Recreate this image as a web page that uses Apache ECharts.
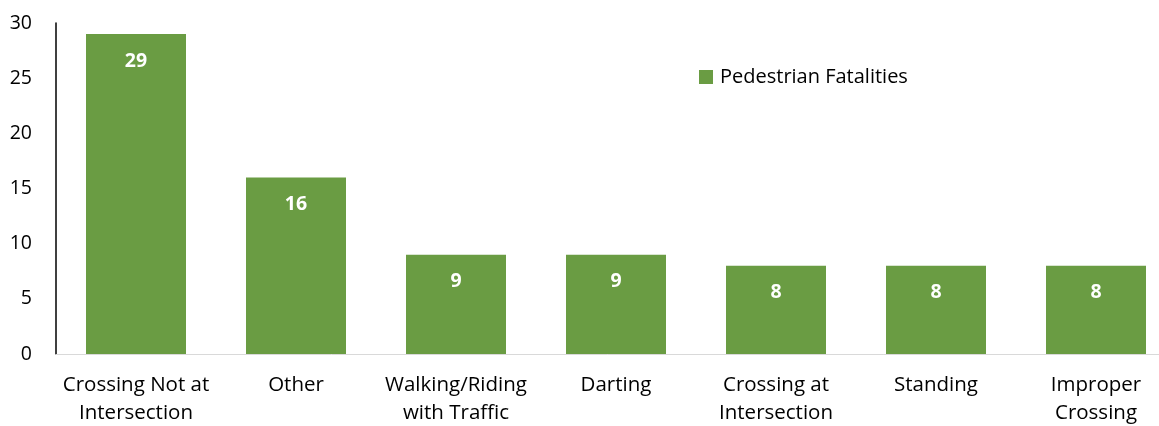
<!DOCTYPE html>
<html>
<head>
<meta charset="utf-8">
<script src="https://cdn.jsdelivr.net/npm/echarts@6/dist/echarts.min.js"></script>
<style>
  html, body { margin: 0; padding: 0; background: #fff; }
  #chart { width: 1159px; height: 426px; }
</style>
</head>
<body>
<div id="chart"></div>
<script>
// categories and values
const categories = [
    'Crossing Not at\nIntersection',
    'Other',
    'Walking/Riding\nwith Traffic',
    'Darting',
    'Crossing at\nIntersection',
    'Standing',
    'Improper\nCrossing'
];
const fatalities = [29, 16, 9, 9, 8, 8, 8];
const seriesName = 'Pedestrian Fatalities';

const font = '"Open Sans", Lato, sans-serif';
const chart = echarts.init(document.getElementById('chart'));

chart.setOption({
    animation: false,
    textStyle: { fontFamily: font },
    legend: {
        data: [seriesName],
        icon: 'rect',
        left: 694,
        top: 62,
        itemWidth: 14,
        itemHeight: 14,
        itemGap: 7,
        textStyle: { fontSize: 20, color: '#000', fontFamily: font, padding: [0, 0, 0, 2] }
    },
    grid: {
        left: 56,
        top: 23,
        width: 1120,
        bottom: 72,
        containLabel: false,
        outerBoundsMode: 'none'
    },
    xAxis: {
        type: 'category',
        data: categories,
        axisLine: { lineStyle: { color: '#d9d9d9', width: 1 } },
        axisTick: { show: false },
        axisLabel: {
            interval: 0,
            fontSize: 20.5,
            color: '#000',
            lineHeight: 28,
            margin: 17,
            fontFamily: font
        }
    },
    yAxis: {
        type: 'value',
        min: 0,
        max: 30,
        interval: 5,
        axisLine: { show: true, lineStyle: { color: '#000', width: 1.5 } },
        axisTick: { show: false },
        splitLine: { show: false },
        axisLabel: {
            fontSize: 19.5,
            color: '#000',
            margin: 24,
            fontFamily: font
        }
    },
    series: [{
        name: seriesName,
        type: 'bar',
        data: fatalities,
        barWidth: '62.5%',
        itemStyle: { color: '#6a9c43' },
        label: {
            show: true,
            position: 'insideTop',
            distance: 17,
            color: '#fff',
            fontWeight: 'bold',
            fontSize: 19.5,
            fontFamily: font
        }
    }]
});
</script>
</body>
</html>
